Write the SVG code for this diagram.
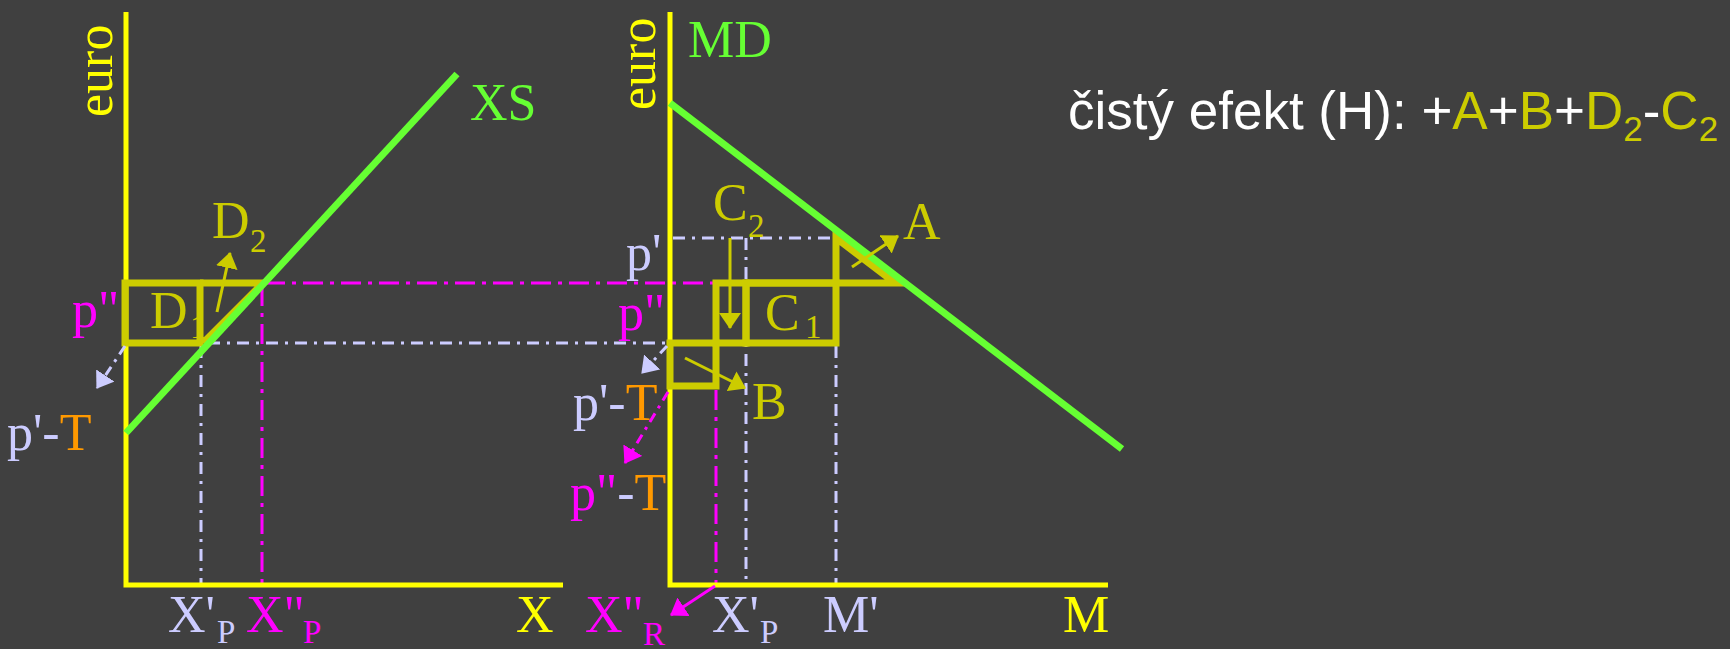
<svg xmlns="http://www.w3.org/2000/svg" width="1730" height="649" viewBox="0 0 1730 649">
<style>
.t{font-family:"Liberation Serif","Times New Roman",serif;font-size:52px}
.s{font-family:"Liberation Serif","Times New Roman",serif;font-size:33px}
.ax{fill:none;stroke:#FFFF00;stroke-width:5;stroke-linejoin:miter}
.cur{fill:none;stroke:#66FF33;stroke-width:7}
.box{fill:none;stroke:#CCCC00;stroke-width:7;stroke-linejoin:miter}
.gl{fill:none;stroke:#CCCCFF;stroke-width:3;stroke-dasharray:12 7 3 7}
.gm{fill:none;stroke:#FF00FF;stroke-width:3;stroke-dasharray:20 7 4 7}
.ay{fill:none;stroke:#CCCC00;stroke-width:3}
.al{fill:none;stroke:#CCCCFF;stroke-width:3;stroke-dasharray:10 6 3 6}
.am{fill:none;stroke:#FF00FF;stroke-width:3;stroke-dasharray:10 6 3 6}
.lav{fill:#CCCCFF}.mag{fill:#FF00FF}.yel{fill:#FFFF00}.oli{fill:#CCCC00}.grn{fill:#66FF33}.org{fill:#FF9900}.wht{fill:#FFFFFF}
</style>
<defs>
<marker id="hy" markerUnits="userSpaceOnUse" viewBox="0 0 16 22" markerWidth="16" markerHeight="22" refX="15" refY="11" orient="auto"><path d="M0,0 L16,11 L0,22 z" fill="#CCCC00"/></marker>
<marker id="hl" markerUnits="userSpaceOnUse" viewBox="0 0 16 22" markerWidth="16" markerHeight="22" refX="15" refY="11" orient="auto"><path d="M0,0 L16,11 L0,22 z" fill="#CCCCFF"/></marker>
<marker id="hm" markerUnits="userSpaceOnUse" viewBox="0 0 16 22" markerWidth="16" markerHeight="22" refX="15" refY="11" orient="auto"><path d="M0,0 L16,11 L0,22 z" fill="#FF00FF"/></marker>
</defs>
<rect x="0" y="0" width="1730" height="649" fill="#404040"/>

<g id="guides">
<path class="gl" d="M208,343 H670"/>
<path class="gl" d="M201,346 V585"/>
<path class="gm" d="M265,283 H713"/>
<path class="gm" d="M262,286 V585"/>
<path class="gl" d="M673,238 H836"/>
<path class="gl" d="M746,238 V585"/>
<path class="gl" d="M836,346 V585"/>
<path class="gm" d="M716,390 V585"/>
</g>

<g id="axes">
<polyline class="ax" points="126,12 126,585 563,585"/>
<polyline class="ax" points="670,12 670,585 1108,585"/>
</g>

<g id="hidden-sub">
<text class="s oli" x="190" y="338">1</text>
</g>

<g id="areas">
<g id="area-D1"><rect class="box" x="125" y="283" width="75" height="60"/></g>
<g id="area-D2"><path class="box" d="M200,283 L263,283 L203,343"/></g>
<g id="area-C2"><rect class="box" x="716" y="283" width="30" height="60"/></g>
<g id="area-C1"><rect class="box" x="746" y="283" width="90" height="60"/></g>
<g id="area-A"><path class="box" d="M836,283 V238 L895,283 H746"/></g>
<g id="area-B"><path class="box" d="M670,343 V386 H716 V343 Z"/></g>
</g>

<g id="curves">
<line class="cur" x1="126" y1="433" x2="457" y2="74"/>
<line class="cur" x1="670" y1="103" x2="1122" y2="449"/>
</g>

<g id="connectors">
<line class="ay" x1="217" y1="312" x2="230" y2="253" marker-end="url(#hy)"/>
<line class="ay" x1="730" y1="238" x2="730" y2="328" marker-end="url(#hy)"/>
<line class="ay" x1="852" y1="267" x2="898" y2="236" marker-end="url(#hy)"/>
<line class="ay" x1="685" y1="358" x2="745" y2="388" marker-end="url(#hy)"/>
<line class="al" x1="125" y1="346" x2="97" y2="388" marker-end="url(#hl)"/>
<line class="al" x1="667" y1="346" x2="642" y2="373" marker-end="url(#hl)"/>
<line class="am" x1="668" y1="392" x2="625" y2="463" marker-end="url(#hm)"/>
<line stroke="#FF00FF" stroke-width="3" x1="715" y1="586" x2="671" y2="615" marker-end="url(#hm)"/>
</g>

<g id="labels">
<text class="t yel" transform="translate(112,117) rotate(-90)">euro</text>
<text class="t yel" transform="translate(655,110) rotate(-90)">euro</text>
<text class="t grn" x="470" y="120">XS</text>
<text class="t grn" x="688" y="57">MD</text>
<text class="t oli" x="212" y="238">D</text><text class="s oli" x="250" y="252">2</text>
<text class="t oli" x="150" y="328">D</text>
<text class="t mag" x="72" y="327">p"</text>
<text class="t" x="7" y="450"><tspan class="lav">p'-</tspan><tspan class="org">T</tspan></text>
<text class="t lav" x="626" y="270">p'</text>
<text class="t mag" x="618" y="330">p"</text>
<text class="t oli" x="713" y="220">C</text><text class="s oli" x="748" y="237">2</text>
<text class="t oli" x="903" y="239">A</text>
<text class="t oli" x="765" y="330">C</text><text class="s oli" x="805" y="338">1</text>
<text class="t oli" x="752" y="419">B</text>
<text class="t" x="573" y="420"><tspan class="lav">p'-</tspan><tspan class="org">T</tspan></text>
<text class="t" x="570" y="510"><tspan class="mag">p"</tspan><tspan class="lav">-</tspan><tspan class="org">T</tspan></text>
<text class="t lav" x="168" y="632">X'</text><text class="s lav" x="217" y="643">P</text>
<text class="t mag" x="246" y="632">X"</text><text class="s mag" x="303" y="643">P</text>
<text class="t yel" x="516" y="632">X</text>
<text class="t mag" x="585" y="632">X"</text><text class="s mag" x="643" y="645">R</text>
<text class="t lav" x="712" y="632">X'</text><text class="s lav" x="760" y="643">P</text>
<text class="t lav" x="823" y="632">M'</text>
<text class="t yel" x="1063" y="632">M</text>
</g>

<g id="summary">
<text x="1068" y="129" style="font-family:'Liberation Sans',Arial,sans-serif;font-size:53px" class="wht">čistý efekt (H): +<tspan class="oli">A</tspan>+<tspan class="oli">B</tspan>+<tspan class="oli">D</tspan><tspan class="oli" dy="12" style="font-size:35px">2</tspan><tspan dy="-12">-</tspan><tspan class="oli">C</tspan><tspan class="oli" dy="12" style="font-size:35px">2</tspan></text>
</g>
</svg>
